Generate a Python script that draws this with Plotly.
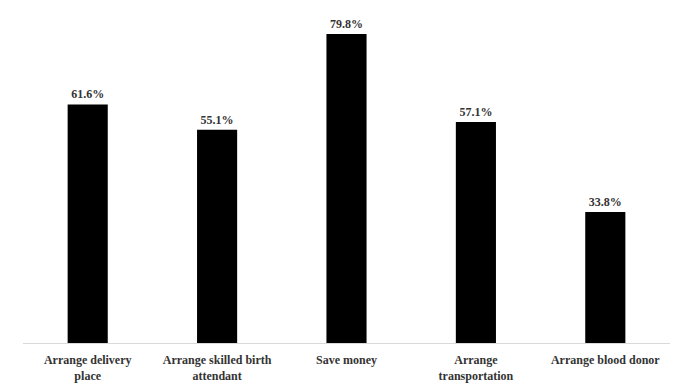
import plotly.graph_objects as go

categories = ["Arrange delivery<br>place", "Arrange skilled birth<br>attendant", "Save money",
              "Arrange<br>transportation", "Arrange blood donor"]
values = [61.6, 55.1, 79.8, 57.1, 33.8]
labels = ["61.6%", "55.1%", "79.8%", "57.1%", "33.8%"]

FONT = "Times New Roman, Liberation Serif, DejaVu Serif, serif"

fig = go.Figure(go.Bar(
    x=categories, y=values, text=labels, textposition="outside",
    marker=dict(color="#000000", line=dict(width=0)),
    width=0.31, cliponaxis=False,
    textfont=dict(family=FONT, size=12, color="#333333", weight="bold"),
))
fig.update_layout(
    width=688, height=392,
    margin=dict(l=23, r=18, t=10, b=49),
    paper_bgcolor="white", plot_bgcolor="white",
    showlegend=False,
    font=dict(family=FONT, size=12, color="#333333"),
)
fig.update_xaxes(showline=True, linecolor="#d9d9d9", linewidth=1, ticks="",
                 ticklabelstandoff=6,
                 tickfont=dict(family=FONT, size=12, color="#333333", weight="bold"))
fig.update_yaxes(range=[0, 86], visible=False, showgrid=False, zeroline=False)
fig.write_html("out.html")
